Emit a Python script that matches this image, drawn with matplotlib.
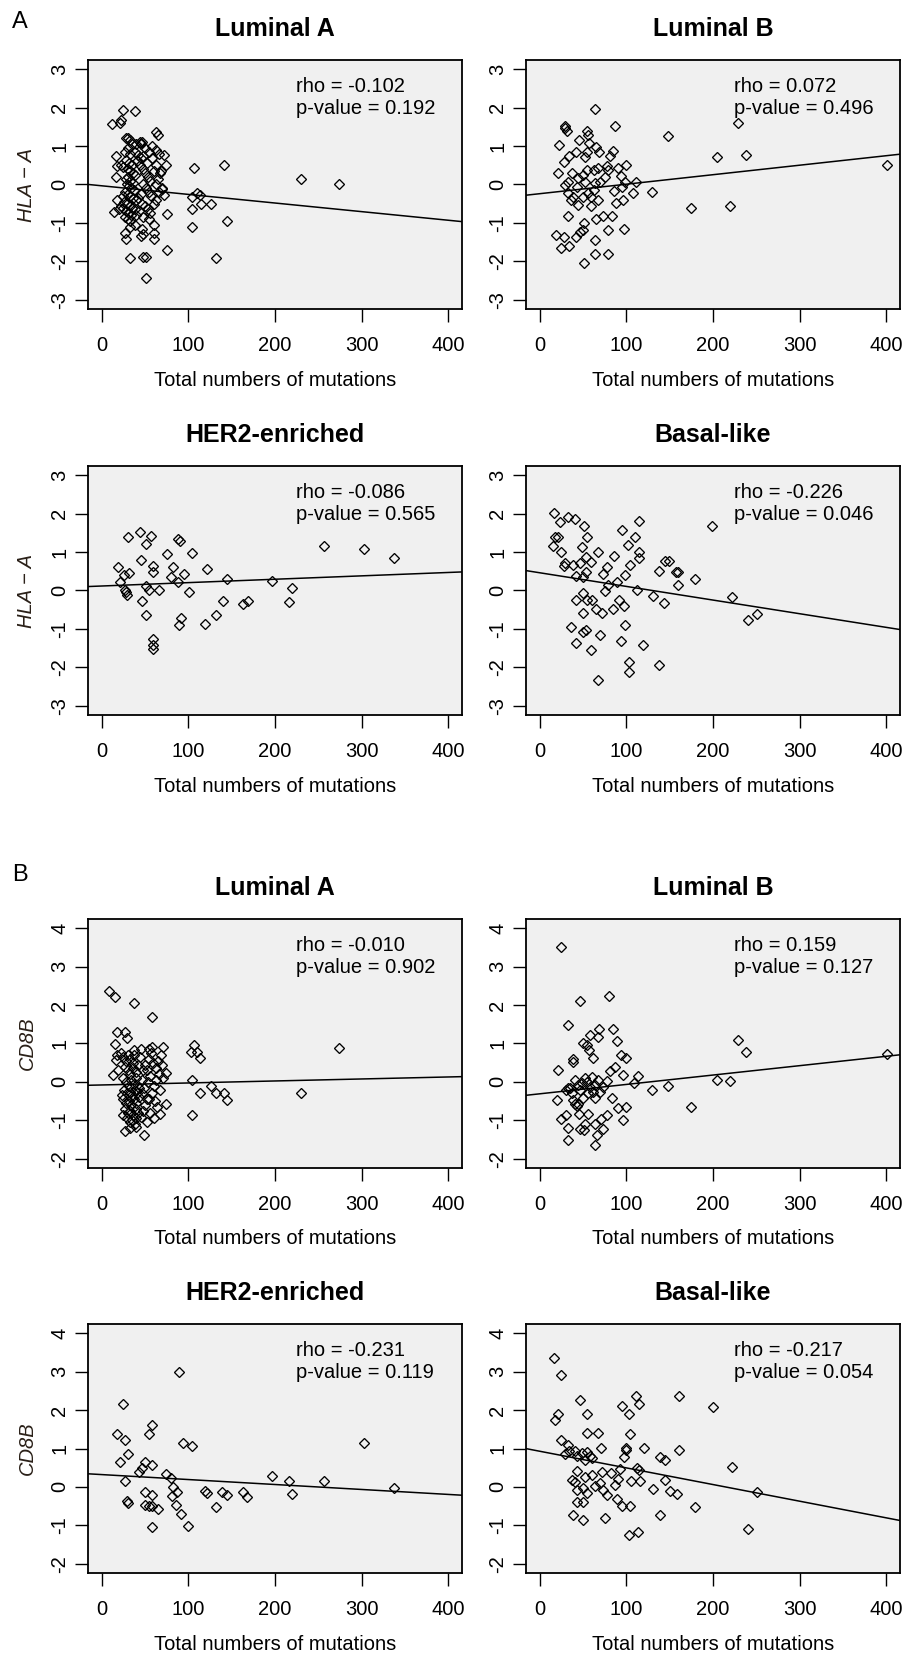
import numpy as np
import matplotlib
matplotlib.use("Agg")
from matplotlib import pyplot as plt

plt.rcParams['font.family'] = ['Liberation Sans', 'DejaVu Sans']
plt.rcParams['axes.unicode_minus'] = False

subtypes = ["Luminal A", "Luminal B", "HER2-enriched", "Basal-like"]

# ---- A: HLA-A vs total mutations ----
a_luma = [(11.5, 1.57), (20.7, 1.61), (22.6, 1.68), (25, 1.94), (38.7, 1.9), (16, 0.75), (18, 0.49), (16, 0.2),
          (17, -0.41), (14, -0.72), (46, 1.1), (62, 1.37), (65, 1.3), (72, 0.77), (73.6, 0.5), (67, 0.29),
          (70, -0.12), (72, -0.28), (75, -0.77), (75, -1.7), (60.5, -1.43), (60.5, -1.25), (47.5, -1.28),
          (46.7, -1.15), (44.8, -1.34), (48, -1.89), (51, -1.88), (51, -2.44), (33, -1.91), (28, -1.43),
          (26.5, -1.25), (106, 0.43), (141, 0.51), (104, -0.32), (110, -0.23), (113, -0.28), (114, -0.51),
          (126, -0.52), (104, -0.63), (104, -1.11), (145, -0.95), (132, -1.9), (229.5, 0.14), (273.6, 0.02),
          (28, 1.2), (30, 1.22), (33, 1.15), (35, 1.05), (30, 0.95), (27, 0.85), (33, 0.8), (38, 0.85),
          (42, 0.78), (45, 0.7), (28, 0.65), (31, 0.55), (35, 0.5), (25, 0.45), (22, 0.5), (30, 0.4),
          (33, 0.35), (36, 0.3), (38, 0.25), (30, 0.2), (28, 0.15), (33, 0.1), (36, 0.05), (29, 0.0),
          (31, -0.05), (34, -0.1), (37, -0.15), (27, -0.2), (30, -0.25), (33, -0.3), (36, -0.35), (39, -0.4),
          (26, -0.45), (29, -0.5), (32, -0.55), (35, -0.6), (38, -0.65), (24, -0.6), (28, -0.7), (31, -0.75),
          (34, -0.8), (27, -0.85), (30, -0.9), (33, -0.95), (25, -0.3), (22, -0.55), (20, -0.65), (41, 0.6),
          (44, 0.5), (47, 0.4), (50, 0.3), (53, 0.2), (56, 0.1), (48, 0.0), (51, -0.1), (54, -0.2),
          (57, -0.3), (45, -0.25), (42, -0.35), (46, -0.5), (50, -0.55), (53, -0.65), (56, -0.75), (43, -0.7),
          (47, -0.85), (40, -0.8), (60, -0.5), (63, -0.4), (66, -0.2), (62, 0.0), (65, 0.15), (60, 0.35),
          (63, 0.5), (58, 0.7), (55, 0.85), (50, 0.95), (45, 1.05), (58, 1.0), (62, 0.9), (66, 0.8),
          (40, 1.05), (48, 0.75), (52, 0.55), (68, 0.35), (69, -0.1), (55, -0.9), (44, 1.1), (38, -1.05),
          (32, -1.1), (60, -1.05)]

a_lumb = [(64, 1.97), (29, 1.52), (29, 1.46), (31, 1.4), (54, 1.4), (87, 1.52), (147.6, 1.26), (229, 1.59),
          (205, 0.72), (238, 0.77), (401, 0.51), (175, -0.61), (220, -0.57), (129, -0.19), (108, -0.21),
          (111, 0.06), (100, 0.51), (97, -1.16), (79, -1.19), (79, -1.82), (64, -1.82), (64, -1.44),
          (51, -2.03), (19, -1.32), (27.5, -1.37), (25, -1.66), (34, -1.61), (32.5, -0.82), (42, -1.37),
          (46, -1.23), (49.5, -1.19), (51, -0.99), (22.4, 1.04), (20.5, 0.29), (45.6, 1.16), (56, 1.29),
          (65, 0.98), (68, 0.85), (84.6, 0.88), (81.6, 0.74), (78, 0.49), (90, 0.43), (94, 0.23),
          (86, -0.17), (88, -0.47), (96, -0.41), (83, -0.83), (73, -0.83), (64.5, -0.89), (67.6, -0.41),
          (59, -0.57), (44.5, -0.53), (36, -0.41), (33, -0.23), (29, -0.02), (28, 0.59), (33.6, 0.75),
          (41.4, 0.85), (52, 0.72), (54, 0.85), (57, 1.07), (44.4, 0.17), (50, 0.26), (54, 0.37), (62, 0.37),
          (67.6, 0.42), (75, 0.2), (69.6, 0.07), (62, -0.15), (56, -0.23), (59, -0.32), (50, -0.32),
          (38.6, -0.32), (42.5, -0.06), (36.7, 0.29), (33, 0.07), (52, 0.07), (64, 0.04), (98.5, 0.07),
          (94.7, -0.06), (79, 0.37)]

a_her2 = [(19, 0.6), (20.7, 0.22), (25.7, 0.41), (31.4, 0.45), (26.4, 0.02), (27.6, -0.04), (29.5, -0.11),
          (30.7, 1.39), (44, 1.52), (57, 1.43), (50.6, 1.22), (45.6, 0.8), (58.6, 0.64), (58.6, 0.47),
          (50.6, 0.13), (55, 0.0), (66.3, 0.02), (46, -0.27), (51, -0.65), (58.6, -1.26), (58.6, -1.43),
          (58.6, -1.53), (75, 0.95), (82, 0.62), (80, 0.35), (88, 1.35), (90, 1.3), (104, 0.97), (95.4, 0.43),
          (88, 0.22), (101, -0.03), (91, -0.72), (89, -0.91), (119.5, -0.87), (121.5, 0.57), (132, -0.65),
          (139.5, -0.27), (145, 0.3), (163.6, -0.36), (169, -0.27), (196, 0.25), (216.5, -0.3), (220, 0.06),
          (256.7, 1.17), (303, 1.09), (338, 0.84)]

a_basal = [(16, 2.01), (23, 1.78), (33, 1.9), (40.5, 1.87), (51, 1.67), (18, 1.4), (21, 1.38), (15.4, 1.17),
           (25, 1.01), (49, 1.14), (54.4, 1.4), (29, 0.71), (28, 0.65), (38.6, 0.66), (46, 0.71), (53, 0.88),
           (59, 0.75), (41.7, 0.38), (49.4, 0.34), (53, 0.49), (67.6, 1.01), (86, 0.91), (78, 0.62),
           (73, 0.44), (79, 0.14), (75, -0.02), (89, 0.23), (94.6, 1.58), (102, 1.19), (110, 1.4),
           (114.7, 1.82), (115, 0.99), (115, 0.85), (104, 0.66), (98.5, 0.4), (112, 0.0), (91, -0.24),
           (97.7, -0.4), (84, -0.49), (71.4, -0.58), (65, -0.49), (59.8, -0.25), (54, -0.25), (50, -0.06),
           (41.7, -0.25), (49.4, -0.58), (36, -0.95), (50, -1.08), (53, -1.04), (41.7, -1.37), (58.7, -1.56),
           (70, -1.17), (67.6, -2.33), (93.4, -1.31), (98.5, -0.91), (103, -1.87), (103, -2.13), (119, -1.41),
           (138, -1.95), (130.5, -0.15), (143.6, -0.32), (138, 0.51), (144, 0.78), (149.4, 0.77),
           (157.5, 0.49), (160, 0.47), (160, 0.14), (179.5, 0.3), (199, 1.68), (222, -0.17), (240, -0.78),
           (251, -0.61)]

a_intercept = [-0.034, -0.239, 0.117, 0.461]
a_slope = [-0.00224, 0.00247, 0.00088, -0.00355]
a_rho = ["-0.102", "0.072", "-0.086", "-0.226"]
a_pval = ["0.192", "0.496", "0.565", "0.046"]

# ---- B: CD8B vs total mutations ----
b_luma = [(8.5, 2.37), (15.4, 2.22), (37, 2.06), (57.7, 1.68), (17.3, 1.3), (26.5, 1.31), (29.6, 1.15),
          (15.4, 0.98), (17, 0.7), (16, 0.57), (13, 0.17), (19, 0.3), (71, 0.9), (54.6, 0.86), (37, 0.83),
          (74.6, 0.22), (74.6, -0.57), (67, -0.83), (49, -1.39), (26.5, -1.28), (40, -1.17), (52.7, -1.04),
          (106, 0.97), (102.7, 0.77), (110, 0.78), (113, 0.61), (104, 0.04), (113, -0.28), (126, -0.11),
          (131.5, -0.28), (141, -0.3), (145, -0.48), (104, -0.85), (229.6, -0.28), (274, 0.89),
          (22, 0.75), (25, 0.65), (28, 0.55), (30, 0.7), (33, 0.6), (36, 0.5), (27, 0.4), (30, 0.3),
          (33, 0.2), (36, 0.35), (39, 0.25), (24, 0.1), (28, 0.0), (31, -0.1), (34, 0.05), (37, -0.05),
          (40, 0.1), (26, -0.2), (29, -0.3), (32, -0.25), (35, -0.35), (38, -0.2), (41, -0.3), (25, -0.45),
          (28, -0.55), (31, -0.5), (34, -0.6), (37, -0.45), (40, -0.55), (43, -0.4), (27, -0.7), (30, -0.8),
          (33, -0.75), (36, -0.85), (39, -0.7), (42, -0.8), (29, -0.95), (32, -1.05), (35, -1.0), (38, -1.1),
          (45, -0.9), (48, -0.75), (50, -0.6), (52, -0.45), (46, -0.3), (49, -0.15), (53, 0.0), (56, 0.15),
          (47, 0.3), (50, 0.45), (54, 0.6), (57, 0.75), (44, 0.65), (59, 0.5), (62, 0.35), (65, 0.55),
          (68, 0.7), (70, 0.45), (66, 0.2), (63, 0.05), (60, -0.1), (58, -0.3), (61, -0.5), (64, -0.65),
          (56, -0.8), (60, -0.95), (67, -0.2), (71, 0.1), (46, 0.05), (42, 0.45), (40, -0.95), (33, -1.2),
          (55, -0.45), (52, 0.3), (43, -0.15), (37, 0.7), (45, 0.85), (58, 0.9), (24, -0.85), (23, -0.35)]

b_lumb = [(24, 3.52), (46, 2.1), (80, 2.23), (32, 1.48), (68.6, 1.37), (85, 1.39), (66.7, 1.17), (58, 1.22),
          (50, 1.0), (54, 0.97), (88.6, 1.06), (56.6, 0.83), (61, 0.63), (38.5, 0.59), (38.5, 0.52),
          (93.6, 0.7), (99.4, 0.63), (21, 0.3), (86.7, 0.39), (81, 0.28), (96, 0.19), (113.7, 0.15),
          (109, -0.03), (78, 0.02), (20, -0.48), (25, -0.96), (29.7, -0.87), (32.8, -1.2), (32.8, -1.52),
          (46, -1.22), (51, -1.26), (52, -1.1), (56, -0.83), (64, -1.65), (65.5, -1.39), (63.6, -1.09),
          (73, -1.22), (70.5, -0.96), (78, -0.87), (83, -0.43), (90, -0.68), (96, -0.98), (99.4, -0.65),
          (129, -0.22), (148, -0.11), (175, -0.65), (205, 0.06), (220, 0.02), (228.5, 1.1), (238, 0.77),
          (401, 0.72), (32.8, -0.17), (37.4, -0.3), (40.5, 0.04), (43.5, -0.09), (46, -0.22), (49, -0.04),
          (52, 0.09), (55, 0.0), (58, -0.13), (61.7, -0.26), (64, -0.43), (67.4, 0.04), (69.4, -0.26),
          (44.3, -0.57), (42.4, -0.63), (38.5, -0.48), (34.7, -0.17), (56, -0.3), (59.7, 0.13), (50, -0.43),
          (63.6, -0.09), (73, -0.13), (30, -0.22), (45.5, -0.83), (40.5, -0.57)]

b_her2 = [(24.6, 2.15), (89, 2.99), (18, 1.37), (27, 1.23), (58.5, 1.61), (54, 1.37), (94, 1.15), (104, 1.06),
          (30, 0.86), (20.8, 0.65), (50, 0.65), (57.7, 0.57), (43, 0.39), (46, 0.48), (74.6, 0.34),
          (79.6, 0.23), (26.5, 0.15), (82, 0.0), (50, -0.14), (58.5, -0.2), (87, -0.14), (29.6, -0.37),
          (30.4, -0.43), (50, -0.46), (54.6, -0.5), (58.5, -0.5), (65, -0.57), (81.5, -0.24), (86, -0.46),
          (91, -0.7), (58.5, -1.05), (100, -1.01), (119, -0.1), (121, -0.16), (131.5, -0.52), (138.5, -0.14),
          (145, -0.2), (163, -0.14), (168, -0.27), (196, 0.28), (216.5, 0.15), (220, -0.18), (256.5, 0.15),
          (303, 1.15), (338, -0.03)]

b_basal = [(16.6, 3.36), (24, 2.9), (17, 1.73), (21, 1.9), (46, 2.27), (55, 1.9), (25, 1.23), (33, 1.08),
           (29, 0.86), (34, 0.93), (40.5, 0.93), (49, 0.89), (54, 0.91), (58, 0.8), (60, 0.74), (52, 0.71),
           (42.4, 0.8), (54, 1.41), (67.4, 1.41), (71, 1.02), (94.4, 2.1), (103, 1.9), (110.6, 2.37),
           (114.5, 2.15), (104, 1.37), (99, 1.02), (100, 0.96), (97.5, 0.77), (120, 1.02), (138.7, 0.78),
           (144.5, 0.71), (160.7, 2.37), (161, 0.95), (199.6, 2.08), (112, 0.5), (114.5, 0.43), (92.5, 0.47),
           (105, 0.15), (115.6, 0.15), (144, 0.19), (42.4, 0.41), (36.6, 0.19), (40.5, 0.12), (52, 0.26),
           (60, 0.32), (72, 0.4), (82, 0.35), (90.5, 0.21), (86.7, 0.06), (63.6, 0.02), (69.4, 0.1),
           (42.4, -0.07), (50, -0.03), (54, -0.16), (73, -0.07), (78, -0.2), (88.6, -0.31), (94.4, -0.5),
           (104, -0.49), (131, -0.05), (150, -0.11), (158, -0.18), (179, -0.52), (138.7, -0.74), (42.4, -0.4),
           (50, -0.4), (38.5, -0.72), (50, -0.85), (75, -0.81), (103, -1.24), (113.7, -1.16), (222, 0.52),
           (251, -0.14), (241, -1.1)]

b_intercept = [-0.079, -0.309, 0.321, 0.928]
b_slope = [0.00052, 0.00244, -0.00129, -0.00433]
b_rho = ["-0.010", "0.159", "-0.231", "-0.217"]
b_pval = ["0.902", "0.127", "0.119", "0.054"]

x_ticks = [0, 100, 200, 300, 400]
xlim = (-16, 416)

W, H = 904, 1660
fig = plt.figure(figsize=(W / 100, H / 100), dpi=100)

col_left = [88, 526]
box_w = 374
box_h = 249
row_top = [60, 466, 919, 1324]

groups = [
    ("A", "HLA − A", [a_luma, a_lumb, a_her2, a_basal], a_intercept, a_slope, a_rho, a_pval, (-3, 3)),
    ("B", "CD8B", [b_luma, b_lumb, b_her2, b_basal], b_intercept, b_slope, b_rho, b_pval, (-2, 4)),
]

for g, (letter, ylab, pts, icpt, slp, rhos, pvals, yr) in enumerate(groups):
    pad = (yr[1] - yr[0]) * 0.04
    for k in range(4):
        r = 2 * g + k // 2
        c = k % 2
        ax = fig.add_axes([col_left[c] / W, 1 - (row_top[r] + box_h) / H, box_w / W, box_h / H])
        ax.set_facecolor('#f0f0f0')
        xy = np.array(pts[k])
        ax.plot(xy[:, 0], xy[:, 1], 'D', mfc='none', mec='black', ms=4.8, mew=0.95)
        xx = np.array(xlim)
        ax.plot(xx, icpt[k] + slp[k] * xx, color='black', lw=1.1)
        ax.set_xlim(*xlim)
        ax.set_ylim(yr[0] - pad, yr[1] + pad)
        ax.set_xticks(x_ticks)
        ax.set_yticks(range(yr[0], yr[1] + 1))
        ax.tick_params(direction='out', length=9.4, width=1.0, labelsize=14.5, colors='black')
        ax.tick_params(axis='x', pad=10)
        ax.tick_params(axis='y', pad=4, labelrotation=90)
        for lab in ax.get_yticklabels():
            lab.set_va('center')
        for sp in ax.spines.values():
            sp.set_linewidth(1.3)
        ax.text(0.5, 1 + 31 / box_h, subtypes[k], transform=ax.transAxes, ha='center', va='center',
                fontsize=18, fontweight='bold')
        ax.text(0.557, 0.895, "rho = " + rhos[k], transform=ax.transAxes, ha='left', va='center', fontsize=14.5)
        ax.text(0.557, 0.805, "p-value = " + pvals[k], transform=ax.transAxes, ha='left', va='center',
                fontsize=14.5)
        ax.set_xlabel("Total numbers of mutations", fontsize=14.5)
        ax.xaxis.label.set_va('center')
        ax.xaxis.set_label_coords(0.5, -71 / box_h)
        if c == 0:
            ax.set_ylabel(ylab, fontsize=14.5, fontstyle='italic', color='#2a2018')
            ax.yaxis.label.set_va('center')
            ax.yaxis.set_label_coords(-61 / box_w, 0.5)

fig.text(20 / W, 1 - 22 / H, "A", fontsize=17, ha='center', va='center')
fig.text(20 / W, 1 - 875 / H, "B", fontsize=17, ha='center', va='center')

fig.savefig("out.png", dpi=100)
